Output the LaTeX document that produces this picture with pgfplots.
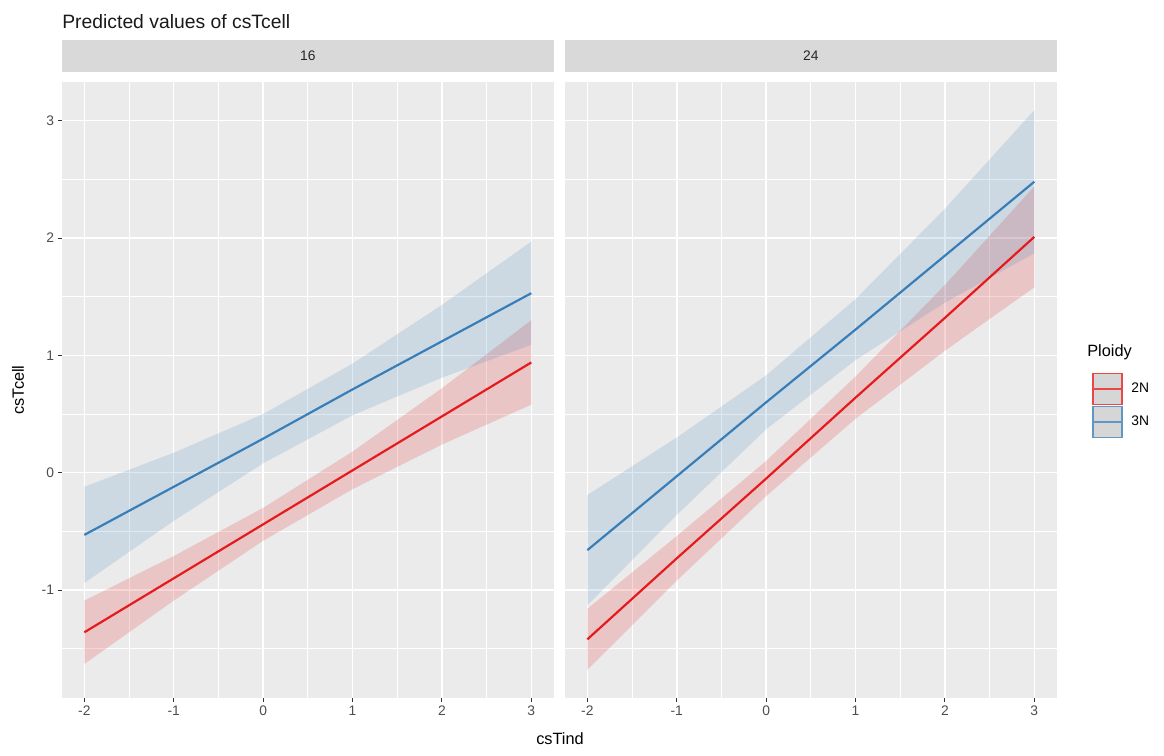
\documentclass[border=0pt]{standalone}
\usepackage{pgfplots}
\pgfplotsset{compat=1.18}
\usepackage{pgfplotstable}
\usepackage{fontspec}
\setmainfont{Liberation Sans}

\definecolor{setred}{HTML}{E41A1C}
\definecolor{setblue}{HTML}{377EB8}
\definecolor{panelbg}{HTML}{EBEBEB}
\definecolor{stripbg}{HTML}{D9D9D9}
\definecolor{tickgrey}{HTML}{333333}
\definecolor{labgrey}{HTML}{4D4D4D}
\definecolor{keygrey}{HTML}{D6D6D6}

% fitted lines
\pgfplotstableread{
x fit
-2 -1.36
-1 -0.90
0 -0.44
1 0.02
2 0.48
3 0.94
}\redA
\pgfplotstableread{
x fit
-2 -0.53
-1 -0.12
0 0.29
1 0.71
2 1.12
3 1.53
}\blueA
\pgfplotstableread{
x fit
-2 -1.42
-1 -0.73
0 -0.05
1 0.64
2 1.32
3 2.01
}\redB
\pgfplotstableread{
x fit
-2 -0.66
-1 -0.03
0 0.60
1 1.22
2 1.85
3 2.48
}\blueB
% confidence bands: upper edge left to right, then lower edge right to left
\pgfplotstableread{
x y
-2 -1.09
-1 -0.71
0 -0.30
1 0.18
2 0.72
3 1.30
3 0.58
2 0.24
1 -0.14
0 -0.58
-1 -1.09
-2 -1.63
}\redAband
\pgfplotstableread{
x y
-2 -0.12
-1 0.17
0 0.50
1 0.93
2 1.43
3 1.97
3 1.09
2 0.81
1 0.49
0 0.08
-1 -0.41
-2 -0.94
}\blueAband
\pgfplotstableread{
x y
-2 -1.16
-1 -0.54
0 0.10
1 0.82
2 1.60
3 2.44
3 1.58
2 1.04
1 0.46
0 -0.20
-1 -0.92
-2 -1.68
}\redBband
\pgfplotstableread{
x y
-2 -0.19
-1 0.30
0 0.83
1 1.48
2 2.25
3 3.09
3 1.87
2 1.45
1 0.96
0 0.37
-1 -0.36
-2 -1.13
}\blueBband

\pgfplotsset{panel/.style={
  scale only axis, width=295pt, height=369.6pt,
  xmin=-2.25, xmax=3.25, ymin=-1.92, ymax=3.33,
  axis background/.style={fill=panelbg},
  axis line style={draw=none},
  grid=both,
  major grid style={white, line width=0.9pt},
  minor grid style={white, line width=0.45pt},
  xtick={-2,-1,0,1,2,3}, xticklabels={-2,-1,0,1,2,3},
  ytick={-1,0,1,2,3},
  minor xtick={-1.5,-0.5,0.5,1.5,2.5},
  minor ytick={-1.5,-0.5,0.5,1.5,2.5},
  tick align=outside, major tick length=2.6pt, minor tick length=0pt,
  tick style={color=tickgrey, line width=0.6pt},
  xtick pos=bottom, ytick pos=left,
  xticklabel style={font=\fontsize{8.3}{10}\selectfont, text=labgrey, inner sep=2.2pt},
  yticklabel style={font=\fontsize{8.3}{10}\selectfont, text=labgrey, inner sep=2pt},
  title style={fill=stripbg, minimum width=295pt, minimum height=19.2pt,
    inner sep=0pt, at={(0.5,1)}, anchor=south,
    font=\fontsize{8.3}{10}\selectfont, text=black!85},
}}

\begin{document}
\begin{tikzpicture}
\path (0,0) rectangle (698.4pt,453pt);

\begin{axis}[panel, at={(37.2pt,34.2pt)}, anchor=south west, title={16},
  yticklabels={-1,0,1,2,3},
  ylabel={csTcell}, ylabel style={at={(axis description cs:-0.0895,0.5)}, anchor=center,
    font=\fontsize{9.8}{11}\selectfont}]
  \addplot[fill=setred, fill opacity=0.18, draw=none, forget plot] table[x=x, y=y] {\redAband} -- cycle;
  \addplot[fill=setblue, fill opacity=0.17, draw=none, forget plot] table[x=x, y=y] {\blueAband} -- cycle;
  \addplot[setred, line width=1.3pt, forget plot] table[x=x, y=fit] {\redA};
  \addplot[setblue, line width=1.3pt, forget plot] table[x=x, y=fit] {\blueA};
\end{axis}

\begin{axis}[panel, at={(339pt,34.2pt)}, anchor=south west, title={24},
  yticklabels={}, ytick style={draw=none},
  legend style={at={(1.072,0.529)}, anchor=north west, draw=none, fill=none,
    inner sep=0pt, row sep=0pt, font=\fontsize{8.3}{10}\selectfont,
    nodes={inner sep=0pt, minimum height=19.8pt, anchor=west}},
  legend cell align=left,
  legend image code/.code={
    \draw[#1, fill=keygrey, line width=1pt] (0pt,-9.3pt) rectangle (17.4pt,9.3pt);
    \draw[#1, line width=0.9pt] (0pt,0pt) -- (17.4pt,0pt);}]
  \addlegendimage{draw=setred!80}
  \addlegendentry{\hspace{5pt}2N}
  \addlegendimage{draw=setblue!80}
  \addlegendentry{\hspace{5pt}3N}
  \addplot[fill=setred, fill opacity=0.18, draw=none, forget plot] table[x=x, y=y] {\redBband} -- cycle;
  \addplot[fill=setblue, fill opacity=0.17, draw=none, forget plot] table[x=x, y=y] {\blueBband} -- cycle;
  \addplot[setred, line width=1.3pt, forget plot] table[x=x, y=fit] {\redB};
  \addplot[setblue, line width=1.3pt, forget plot] table[x=x, y=fit] {\blueB};
\end{axis}

\node[anchor=west, inner sep=0pt, font=\fontsize{11.6}{13}\selectfont, text=black!90] at (37.2pt,439.8pt) {Predicted values of csTcell};
\node[anchor=center, font=\fontsize{9.8}{11}\selectfont] at (336pt,9.6pt) {csTind};
\node[anchor=west, inner sep=0pt, font=\fontsize{9.8}{11}\selectfont] at (652.2pt,241.8pt) {Ploidy};
\end{tikzpicture}
\end{document}
